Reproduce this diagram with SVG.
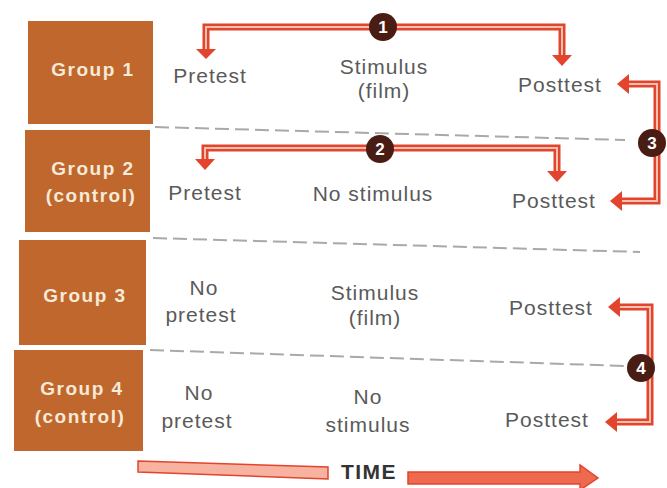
<svg xmlns="http://www.w3.org/2000/svg" width="667" height="488" viewBox="0 0 667 488">
<style>
.box{fill:#c0672d}
.gl{font-family:"Liberation Sans",Arial,sans-serif;font-weight:bold;font-size:19px;letter-spacing:1.5px;fill:#f6ead8;text-anchor:middle}
.t{font-family:"Liberation Sans",Arial,sans-serif;font-size:21px;letter-spacing:1px;fill:#5a5a5a;text-anchor:middle}
.dash{stroke:#a9a9a9;stroke-width:2;stroke-dasharray:14 6;fill:none}
.ao{stroke:#e2442e;stroke-width:7;fill:none;stroke-linejoin:miter}
.ai{stroke:#f8c0ad;stroke-width:2;fill:none}
.ah{fill:#e2442e}
.num{fill:#4a1d14}
.nt{font-family:"Liberation Sans",Arial,sans-serif;font-weight:bold;font-size:17px;fill:#fff;text-anchor:middle}
</style>
<rect width="667" height="488" fill="#fff"/>
<g id="group1"><rect class="box" x="28" y="21" width="125" height="103"/><text class="gl" x="93" y="76">Group 1</text></g>
<g id="group2"><rect class="box" x="25" y="130" width="125" height="102"/><text class="gl" x="93" y="175">Group 2</text><text class="gl" x="91" y="202">(control)</text></g>
<g id="group3"><rect class="box" x="19" y="240" width="127" height="105"/><text class="gl" x="85" y="302">Group 3</text></g>
<g id="group4"><rect class="box" x="14" y="350" width="129" height="101"/><text class="gl" x="82" y="395">Group 4</text><text class="gl" x="80" y="423">(control)</text></g>
<g id="cells">
<text class="t" x="210" y="83">Pretest</text>
<text class="t" x="384" y="74">Stimulus</text><text class="t" x="384" y="98">(film)</text>
<text class="t" x="560" y="92">Posttest</text>
<text class="t" x="205" y="200">Pretest</text>
<text class="t" x="373" y="201">No stimulus</text>
<text class="t" x="554" y="208">Posttest</text>
<text class="t" x="204" y="295">No</text><text class="t" x="201" y="322">pretest</text>
<text class="t" x="375" y="300">Stimulus</text><text class="t" x="375" y="325">(film)</text>
<text class="t" x="551" y="315">Posttest</text>
<text class="t" x="199" y="400">No</text><text class="t" x="197" y="428">pretest</text>
<text class="t" x="368" y="404">No</text><text class="t" x="368" y="432">stimulus</text>
<text class="t" x="547" y="427">Posttest</text>
</g>
<g id="connectors">
<path class="dash" d="M155,127 L625,140"/>
<path class="dash" d="M153,238 L640,252"/>
<path class="dash" d="M150,350 L625,366"/>
<path class="ao" d="M383,27 H206 V50 M383,27 H562 V56"/>
<path class="ai" d="M383,27 H206 V50 M383,27 H562 V56"/>
<polygon class="ah" points="196,49 216,49 206,59"/>
<polygon class="ah" points="552,55 572,55 562,66"/>
<path class="ao" d="M380,148 H205 V160 M380,148 H557 V172"/>
<path class="ai" d="M380,148 H205 V160 M380,148 H557 V172"/>
<polygon class="ah" points="195,159 215,159 205,170"/>
<polygon class="ah" points="547,171 567,171 557,182"/>
<path class="ao" d="M657,143 V84 H628 M657,143 V201 H621"/>
<path class="ai" d="M657,143 V84 H628 M657,143 V201 H621"/>
<polygon class="ah" points="629,74 629,94 617,84"/>
<polygon class="ah" points="622,191 622,211 610,201"/>
<path class="ao" d="M650,368 V307 H619 M650,368 V422 H616"/>
<path class="ai" d="M650,368 V307 H619 M650,368 V422 H616"/>
<polygon class="ah" points="620,297 620,317 608,307"/>
<polygon class="ah" points="617,412 617,432 605,422"/>
<polygon points="138,461 328,467 328,479 138,472" fill="#f7b3a0" stroke="#e2442e" stroke-width="1.5"/>
<polygon points="408,472 580,472 580,465 598,478 580,490 580,484 408,484" fill="#ee6a4e" stroke="#e2442e" stroke-width="1.5"/>
</g>
<g id="badges">
<circle class="num" cx="383" cy="27" r="14"/><text class="nt" x="383" y="33">1</text>
<circle class="num" cx="380" cy="149" r="14"/><text class="nt" x="380" y="155">2</text>
<circle class="num" cx="652" cy="143" r="14"/><text class="nt" x="652" y="149">3</text>
<circle class="num" cx="641" cy="368" r="14"/><text class="nt" x="641" y="374">4</text>
</g>
<text x="369" y="479" font-family="Liberation Sans,Arial,sans-serif" font-weight="bold" font-size="21" letter-spacing="1.5" fill="#333" text-anchor="middle">TIME</text>
</svg>
